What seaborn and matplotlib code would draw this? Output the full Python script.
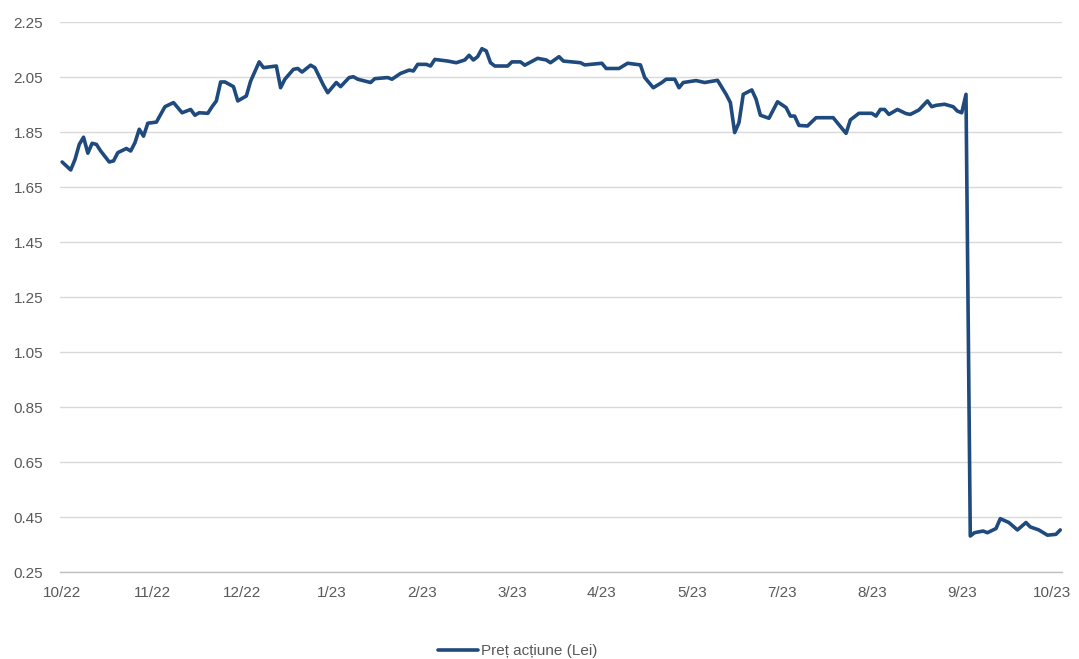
import seaborn as sns
import matplotlib.pyplot as plt
import pandas as pd

# Share price (Lei); session = trading day index
session = [0, 2, 3, 4, 5, 6, 7, 8, 9, 11, 12, 13, 15, 16, 17, 18, 19, 20, 22, 24,
           26, 28, 30, 31, 32, 34, 35, 36, 37, 38, 40, 41, 43, 44, 46, 47, 50, 51, 52, 54,
           55, 56, 58, 59, 61, 62, 64, 65, 67, 68, 69, 72, 73, 76, 77, 79, 81, 82, 83, 85,
           86, 87, 90, 92, 94, 95, 96, 97, 98, 99, 100, 101, 104, 105, 107, 108, 111, 113, 114, 116,
           117, 121, 122, 126, 127, 130, 132, 135, 136, 138, 140, 141, 143, 144, 145, 148, 150, 153, 155, 156,
           157, 158, 159, 161, 162, 163, 165, 167, 169, 170, 171, 172, 174, 176, 180, 183, 184, 186, 189, 190,
           191, 192, 193, 195, 197, 198, 200, 202, 203, 204, 206, 208, 209, 210, 211, 212, 213, 215, 216, 218,
           219, 221, 223, 225, 226, 228, 230, 232, 233]
price = [1.741, 1.712, 1.750, 1.805, 1.831, 1.773, 1.809, 1.805, 1.781, 1.741, 1.745, 1.775, 1.790, 1.781, 1.811, 1.860, 1.835, 1.882, 1.886, 1.942,
         1.957, 1.920, 1.932, 1.911, 1.920, 1.918, 1.942, 1.963, 2.032, 2.032, 2.015, 1.963, 1.981, 2.035, 2.105, 2.084, 2.090, 2.011, 2.042, 2.078,
         2.081, 2.068, 2.093, 2.084, 2.020, 1.993, 2.030, 2.015, 2.048, 2.051, 2.042, 2.030, 2.044, 2.048, 2.042, 2.063, 2.075, 2.072, 2.096, 2.096,
         2.090, 2.114, 2.108, 2.102, 2.112, 2.129, 2.112, 2.124, 2.153, 2.145, 2.102, 2.090, 2.090, 2.105, 2.105, 2.093, 2.118, 2.112, 2.102, 2.124,
         2.108, 2.102, 2.094, 2.100, 2.081, 2.081, 2.100, 2.094, 2.048, 2.011, 2.030, 2.042, 2.042, 2.011, 2.030, 2.037, 2.030, 2.038, 1.987, 1.957,
         1.848, 1.884, 1.987, 2.003, 1.969, 1.911, 1.900, 1.960, 1.939, 1.908, 1.908, 1.874, 1.872, 1.902, 1.902, 1.845, 1.894, 1.918, 1.918, 1.908,
         1.932, 1.932, 1.914, 1.932, 1.917, 1.914, 1.930, 1.963, 1.942, 1.947, 1.951, 1.942, 1.926, 1.920, 1.987, 0.381, 0.393, 0.399, 0.393, 0.408,
         0.444, 0.430, 0.403, 0.430, 0.414, 0.403, 0.384, 0.387, 0.403]

tick_sessions = [0, 21, 42, 63, 84, 105, 126, 147, 168, 189, 210, 231]
tick_labels = ["10/22", "11/22", "12/22", "1/23", "2/23", "3/23",
               "4/23", "5/23", "7/23", "8/23", "9/23", "10/23"]
y_ticks = [0.25, 0.45, 0.65, 0.85, 1.05, 1.25, 1.45, 1.65, 1.85, 2.05, 2.25]

df = pd.DataFrame({"session": session, "price": price})

sns.set_style("white")
plt.rcParams["font.family"] = ["Liberation Sans", "DejaVu Sans"]

fig = plt.figure(figsize=(10.79, 6.59), dpi=100)
ax = fig.add_axes([0.0556, 0.132, 0.929, 0.8346])

sns.lineplot(data=df, x="session", y="price", ax=ax, color="#1F4A7D",
             linewidth=2.6, label="Preț acțiune (Lei)")

ax.set_xlim(-0.5, 233.5)
ax.set_ylim(0.25, 2.25)
ax.set_yticks(y_ticks)
ax.set_yticklabels([f"{v:.2f}" for v in y_ticks])
ax.set_xticks(tick_sessions)
ax.set_xticklabels(tick_labels)
ax.set_xlabel("")
ax.set_ylabel("")

ax.grid(axis="y", color="#D9D9D9", linewidth=1)
ax.set_axisbelow(True)
for side in ["top", "right", "left"]:
    ax.spines[side].set_visible(False)
ax.spines["bottom"].set_color("#BFBFBF")
ax.spines["bottom"].set_linewidth(1)

ax.tick_params(axis="x", colors="#595959", labelsize=11, length=4, width=1,
               color="#BFBFBF", pad=6, direction="out")
ax.tick_params(axis="y", colors="#595959", labelsize=11, length=0, pad=12)

ax.legend(loc="center", bbox_to_anchor=(0.48, 0.012), bbox_transform=fig.transFigure,
          frameon=False, fontsize=11, handlelength=2.6, handletextpad=0.2,
          labelcolor="#595959")

plt.savefig("out.png", dpi=100)
